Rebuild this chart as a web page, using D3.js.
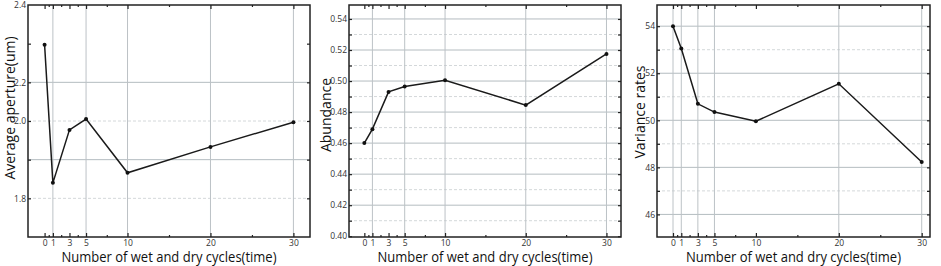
<!DOCTYPE html>
<html>
<head>
<meta charset="utf-8">
<script src="https://cdn.jsdelivr.net/npm/d3@7"></script>
<style>
  body { margin: 0; background: #fff; }
  svg { display: block; }
  .tick text { font-family: "Open Sans", sans-serif; }
</style>
</head>
<body>
<svg id="chart" width="941" height="266"></svg>
<script>
// data
const cycles = [0, 1, 3, 5, 10, 20, 30];
const aperture = [2.197, 1.84, 1.977, 2.005, 1.866, 1.933, 1.997];
const abundance = [0.46, 0.469, 0.493, 0.4965, 0.5005, 0.4845, 0.5175];
const variance = [54.0, 53.05, 50.7, 50.35, 49.96, 51.55, 48.23];

const xTicks = [0, 1, 3, 5, 10, 20, 30];
const xMinor = [0.5, 2, 4, 7.5, 15, 25];

// panel 1 axis labels (as printed in the figure)
const apTickVals = [2.3, 2.1, 2.0, 1.8];
const apTickLabels = ["2.4", "2.2", "2.0", "1.8"];
const apMajor = [2.2, 2.1, 2.0, 1.9, 1.8];
const apGridSolid = [2.1, 1.9];
const apGridDash = [2.0, 1.8];

const abTickVals = [0.40, 0.42, 0.44, 0.46, 0.48, 0.50, 0.52, 0.54];
const abGridDash = [0.41, 0.43, 0.45, 0.47, 0.49, 0.51, 0.53];

const vaTickVals = [46, 48, 50, 52, 54];
const vaGridDash = [47, 49, 51, 53];

const xTitle = "Number of wet and dry cycles(time)";

const svg = d3.select("#chart");

function panel(o) {
  const g = svg.append("g");
  const x = d3.scaleLinear(o.xDomain, [o.left, o.right]);
  const y = d3.scaleLinear(o.yDomain, [o.bottom, o.top]);

  // grid
  g.append("g")
    .selectAll("line")
    .data(o.gridDash)
    .join("line")
    .attr("x1", o.left).attr("x2", o.right)
    .attr("y1", (d) => y(d)).attr("y2", (d) => y(d))
    .attr("stroke", "#d4d8da")
    .attr("stroke-dasharray", "3,2")
    .attr("stroke-width", 1);
  g.append("g")
    .selectAll("line")
    .data(o.gridSolid)
    .join("line")
    .attr("x1", o.left).attr("x2", o.right)
    .attr("y1", (d) => y(d)).attr("y2", (d) => y(d))
    .attr("stroke", "#b4bcc0")
    .attr("stroke-width", 1);
  g.append("g")
    .selectAll("line")
    .data(o.vGrid)
    .join("line")
    .attr("y1", o.top).attr("y2", o.bottom)
    .attr("x1", (d) => x(d)).attr("x2", (d) => x(d))
    .attr("stroke", "#bcc2c6")
    .attr("stroke-width", 1);

  // ticks on all four sides
  const tickStyle = (sel) => {
    sel.select(".domain").remove();
    sel.selectAll(".tick line").attr("stroke", "#222").attr("stroke-width", 1.2);
  };
  g.append("g")
    .attr("transform", `translate(0,${o.bottom})`)
    .call(d3.axisTop(x).tickValues(xTicks).tickSize(4).tickFormat(""))
    .call(tickStyle);
  g.append("g")
    .attr("transform", `translate(0,${o.bottom})`)
    .call(d3.axisTop(x).tickValues(xMinor).tickSize(2).tickFormat(""))
    .call(tickStyle);
  g.append("g")
    .attr("transform", `translate(0,${o.top})`)
    .call(d3.axisBottom(x).tickValues(xTicks).tickSize(4).tickFormat(""))
    .call(tickStyle);
  g.append("g")
    .attr("transform", `translate(0,${o.top})`)
    .call(d3.axisBottom(x).tickValues(xMinor).tickSize(2).tickFormat(""))
    .call(tickStyle);
  g.append("g")
    .attr("transform", `translate(${o.left},0)`)
    .call(d3.axisRight(y).tickValues(o.yMajor).tickSize(3).tickFormat(""))
    .call(tickStyle);
  g.append("g")
    .attr("transform", `translate(${o.right},0)`)
    .call(d3.axisLeft(y).tickValues(o.yMajor).tickSize(3).tickFormat(""))
    .call(tickStyle);

  // tick labels
  const xl = g.append("g")
    .attr("transform", `translate(0,${o.bottom})`)
    .call(d3.axisBottom(x).tickValues(xTicks).tickSize(0).tickPadding(3));
  xl.select(".domain").remove();
  xl.selectAll(".tick text").attr("font-size", 8.5).attr("fill", "#333");

  const yl = g.append("g")
    .attr("transform", `translate(${o.left},0)`)
    .call(
      d3.axisLeft(y)
        .tickValues(o.yTickVals)
        .tickSize(0)
        .tickPadding(2)
        .tickFormat((d, i) => o.yTickLabels[i])
    );
  yl.select(".domain").remove();
  yl.selectAll(".tick text").attr("font-size", 8.5).attr("fill", "#333");

  // frame
  g.append("rect")
    .attr("x", o.left).attr("y", o.top)
    .attr("width", o.right - o.left).attr("height", o.bottom - o.top)
    .attr("fill", "none")
    .attr("stroke", "#222")
    .attr("stroke-width", 1.5);

  // line + points
  const data = cycles.map((c, i) => [c, o.values[i]]);
  g.append("path")
    .datum(data)
    .attr("fill", "none")
    .attr("stroke", "#1a1a1a")
    .attr("stroke-width", 1.5)
    .attr("d", d3.line().x((d) => x(d[0])).y((d) => y(d[1])));
  g.append("g")
    .selectAll("circle")
    .data(data)
    .join("circle")
    .attr("cx", (d) => x(d[0]))
    .attr("cy", (d) => y(d[1]))
    .attr("r", 2)
    .attr("fill", "#111");

  // titles
  g.append("text")
    .attr("x", (o.left + o.right) / 2)
    .attr("y", 262)
    .attr("text-anchor", "middle")
    .attr("font-family", "Open Sans, sans-serif")
    .attr("font-size", 14)
    .attr("textLength", 215)
    .attr("lengthAdjust", "spacingAndGlyphs")
    .attr("fill", "#111")
    .text(xTitle);
  g.append("text")
    .attr("transform", `translate(${o.yTitleX},${o.yTitleY}) rotate(-90)`)
    .attr("text-anchor", "middle")
    .attr("font-family", "Open Sans, sans-serif")
    .attr("font-size", 14)
    .attr("fill", "#111")
    .text(o.yTitle);
}

panel({
  left: 28, right: 310, top: 5, bottom: 237,
  xDomain: [-2, 32], yDomain: [1.7, 2.3],
  values: aperture,
  yTickVals: apTickVals, yTickLabels: apTickLabels, yMajor: apMajor,
  gridSolid: apGridSolid, gridDash: apGridDash,
  vGrid: [1, 5, 10, 20, 30],
  yTitle: "Average aperture(um)", yTitleX: 15, yTitleY: 108,
});

panel({
  left: 349, right: 621, top: 5, bottom: 237,
  xDomain: [-1.9, 31.8], yDomain: [0.3995, 0.549],
  values: abundance,
  yTickVals: abTickVals, yTickLabels: abTickVals.map((d) => d.toFixed(2)),
  yMajor: abTickVals.concat(abGridDash),
  gridSolid: abTickVals.slice(1), gridDash: abGridDash,
  vGrid: [1, 5, 10, 20, 30],
  yTitle: "Abundance", yTitleX: 331, yTitleY: 115,
});

panel({
  left: 657, right: 930, top: 5, bottom: 237,
  xDomain: [-1.93, 31], yDomain: [45.04, 54.9],
  values: variance,
  yTickVals: vaTickVals, yTickLabels: vaTickVals.map(String),
  yMajor: vaTickVals.concat(vaGridDash),
  gridSolid: vaTickVals, gridDash: vaGridDash,
  vGrid: [0, 1, 3, 5, 20, 30],
  yTitle: "Variance rates", yTitleX: 645, yTitleY: 112,
});
</script>
</body>
</html>
